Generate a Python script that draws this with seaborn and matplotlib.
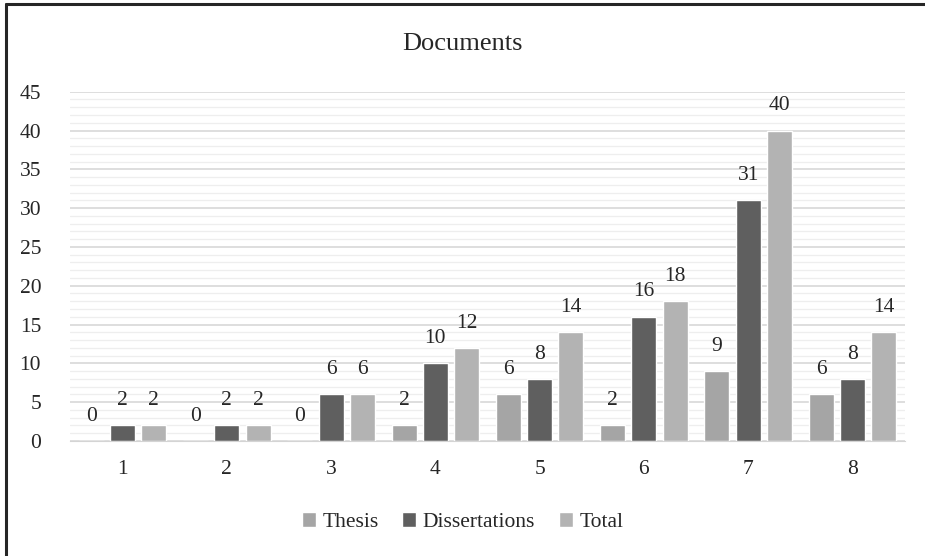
import pandas as pd
import matplotlib.pyplot as plt
import seaborn as sns
from matplotlib.lines import Line2D
from matplotlib.ticker import MultipleLocator

# === data ===
categories = ["1", "2", "3", "4", "5", "6", "7", "8"]
thesis = [0, 0, 0, 2, 6, 2, 9, 6]
dissertations = [2, 2, 6, 10, 8, 16, 31, 8]
total = [2, 2, 6, 12, 14, 18, 40, 14]
series = ["Thesis", "Dissertations", "Total"]
colors = ["#A5A5A5", "#5F5F5F", "#B3B3B3"]

df = pd.DataFrame({
    "cat": categories * 3,
    "series": [s for s in series for _ in categories],
    "value": thesis + dissertations + total,
})

sns.set_style("white")
plt.rcParams["font.family"] = ["Liberation Serif", "DejaVu Serif"]
FS = 15.5

fig = plt.figure(figsize=(9.25, 5.56), dpi=100)
ax = fig.add_axes([0.076, 0.207, 0.902, 0.628])

sns.barplot(data=df, x="cat", y="value", hue="series", order=categories,
            hue_order=series, palette=colors, width=0.9, gap=0.2,
            saturation=1, ax=ax, legend=True)

# 数值标签
for cont in ax.containers:
    ax.bar_label(cont, padding=11, fontsize=FS, color="#262626")

ax.set_ylim(0, 45)
ax.set_xlim(-0.5, 7.5)
ax.yaxis.set_major_locator(MultipleLocator(5))
ax.yaxis.set_minor_locator(MultipleLocator(1))
ax.grid(axis="y", which="major", color="#D4D4D4", linewidth=1.1)
ax.grid(axis="y", which="minor", color="#EEEEEE", linewidth=0.9)
ax.set_axisbelow(True)
for s in ["top", "right", "left"]:
    ax.spines[s].set_visible(False)
ax.spines["bottom"].set_color("#D4D4D4")
ax.tick_params(axis="both", length=0, labelsize=FS, labelcolor="#262626")
ax.tick_params(axis="x", pad=14)
ax.tick_params(axis="y", pad=21)
ax.set_xlabel("")
ax.set_ylabel("")

fig.text(0.5, 0.92, "Documents", ha="center", va="center", fontsize=19, color="#262626")

ax.legend(loc="center", ncol=3, frameon=False, fontsize=FS, handlelength=0.65,
          handleheight=0.65, handletextpad=0.3, columnspacing=1.1, labelcolor="#262626")
leg = ax.get_legend()
leg.set_bbox_to_anchor((0.5, 0.061), transform=fig.transFigure)

# 外框（只露出上边和左边）
fig.add_artist(Line2D([0.0065, 0.0065], [0, 0.992], transform=fig.transFigure, color="#262626", linewidth=2.2))
fig.add_artist(Line2D([0.0065, 1], [0.992, 0.992], transform=fig.transFigure, color="#262626", linewidth=2.2))

fig.savefig("out.png", dpi=100)
